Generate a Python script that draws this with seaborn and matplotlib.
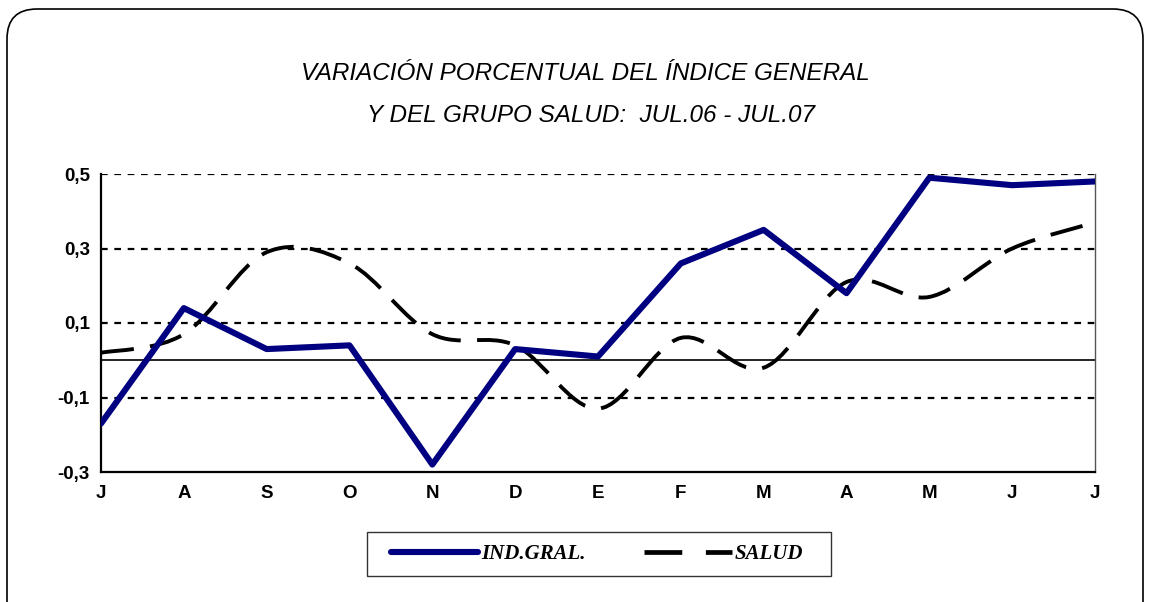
import numpy as np
import pandas as pd
import matplotlib
matplotlib.use('Agg')
import matplotlib.pyplot as plt
import seaborn as sns
from matplotlib.path import Path
from matplotlib.patches import PathPatch, FancyBboxPatch, Rectangle
from matplotlib.lines import Line2D

# datos: jul.06 - jul.07
meses = ['J', 'A', 'S', 'O', 'N', 'D', 'E', 'F', 'M', 'A', 'M', 'J', 'J']
ind_gral = [-0.17, 0.14, 0.03, 0.04, -0.28, 0.03, 0.01, 0.26, 0.35, 0.18, 0.49, 0.47, 0.48]
salud = [0.02, 0.07, 0.29, 0.26, 0.07, 0.04, -0.13, 0.06, -0.02, 0.21, 0.17, 0.30, 0.37]
y_ticks = [-0.3, -0.1, 0.1, 0.3, 0.5]

sns.set_style('white')
plt.rcParams['font.family'] = ['Liberation Sans', 'DejaVu Sans']
plt.rcParams['text.color'] = 'black'
plt.rcParams['xtick.color'] = 'black'
plt.rcParams['ytick.color'] = 'black'

df = pd.DataFrame({'pos': np.arange(len(meses)), 'ind': ind_gral, 'salud': salud})

fig = plt.figure(figsize=(11.5, 6.02), dpi=100)
ax = fig.add_axes([101 / 1150, 1 - 472 / 602, (1095 - 101) / 1150, (472 - 174) / 602])

# grid lines
for v in [0.3, 0.1, -0.1, 0.5]:
    ax.axhline(v, color='black', lw=1.6, ls=(0, (3, 3)), zorder=1)
ax.axhline(0, color='black', lw=1.2, zorder=1)

# salud: smooth curve (catmull-rom -> bezier)
pts = df[['pos', 'salud']].to_numpy(dtype=float)
ext = np.vstack([pts[0], pts, pts[-1]])
verts = [tuple(pts[0])]
codes = [Path.MOVETO]
for i in range(1, len(ext) - 2):
    p0, p1, p2, p3 = ext[i - 1], ext[i], ext[i + 1], ext[i + 2]
    c1 = p1 + (p2 - p0) / 6
    c2 = p2 - (p3 - p1) / 6
    verts += [tuple(c1), tuple(c2), tuple(p2)]
    codes += [Path.CURVE4] * 3
patch = PathPatch(Path(verts, codes), facecolor='none', edgecolor='black',
                  lw=2.8, ls=(0, (8.5, 4.2)), zorder=3)
ax.add_patch(patch)

sns.lineplot(data=df, x='pos', y='ind', ax=ax, color='#000080', lw=4.4,
             solid_capstyle='round', zorder=4, legend=False)

ax.set_xlim(0, len(meses) - 1)
ax.set_ylim(-0.3, 0.5)
ax.set_xticks(df['pos'])
ax.set_xticklabels(meses)
ax.set_yticks(y_ticks)
ax.set_yticklabels([f'{v:.1f}'.replace('.', ',') for v in y_ticks])
ax.set_xlabel('')
ax.set_ylabel('')
for lab in ax.get_xticklabels() + ax.get_yticklabels():
    lab.set_fontweight('bold')
    lab.set_fontsize(13.5)
ax.tick_params(axis='x', direction='inout', length=9, width=1, pad=5, color='#444444')
ax.tick_params(axis='y', direction='out', length=5, width=1, pad=3)
ax.spines['top'].set_visible(False)
for s in ['left', 'bottom']:
    ax.spines[s].set_linewidth(1.6)
    ax.spines[s].set_color('black')
ax.spines['right'].set_linewidth(1.0)
ax.spines['right'].set_color('#555555')

# title
fig.text(585 / 1150, 1 - 74 / 602, 'VARIACIÓN PORCENTUAL DEL ÍNDICE GENERAL',
         ha='center', va='center', style='italic', fontsize=17.5)
fig.text(591 / 1150, 1 - 115 / 602, 'Y DEL GRUPO SALUD:  JUL.06 - JUL.07',
         ha='center', va='center', style='italic', fontsize=17.5)

# legend
handles = [Line2D([], [], color='#000080', lw=4.4, solid_capstyle='round'),
           Line2D([], [], color='black', lw=3.4, ls=(0, (8, 5)))]
leg = fig.legend(handles, ['IND.GRAL.', 'SALUD'], loc='center', ncol=2,
                 bbox_to_anchor=(597 / 1150, 1 - 554 / 602),
                 prop=dict(family='Liberation Serif', weight='bold', style='italic', size=15),
                 handlelength=4.2, handletextpad=0.15, columnspacing=2.8,
                 frameon=False)
fig.patches.append(Rectangle((367 / 1150, 1 - 576 / 602), (831 - 367) / 1150, 44 / 602,
                             transform=fig.transFigure, facecolor='none',
                             edgecolor='#333333', lw=1.0))

# outer rounded frame
frame = FancyBboxPatch((0.07, -0.3), 11.36, 6.23, boxstyle='round,pad=0,rounding_size=0.3',
                       transform=fig.dpi_scale_trans, facecolor='none', edgecolor='black',
                       lw=1.2, clip_on=False)
fig.patches.append(frame)

fig.savefig('out.png', dpi=100)
